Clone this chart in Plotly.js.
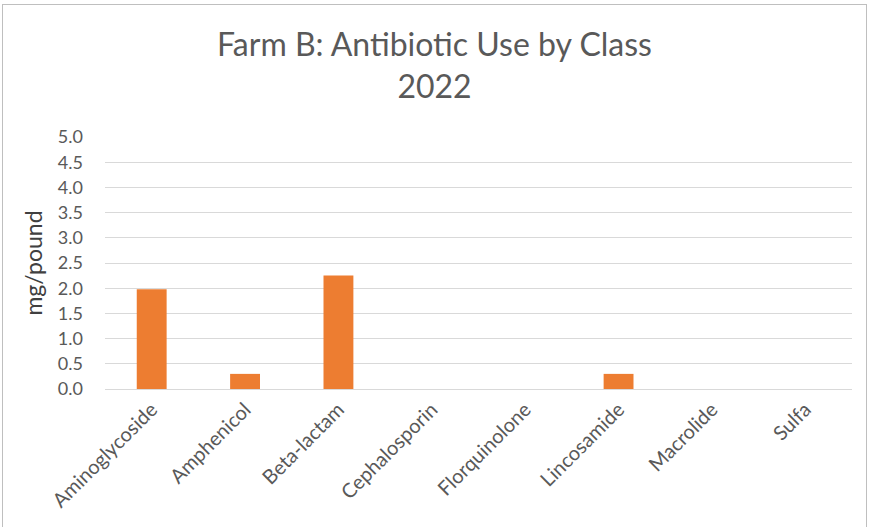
<!DOCTYPE html>
<html>
<head>
<meta charset="utf-8">
<script src="https://cdn.plot.ly/plotly-3.0.1.min.js"></script>
<style>
html,body{margin:0;padding:0;background:#fff;}
#wrap{position:relative;width:869px;height:527px;overflow:hidden;}
#chart{width:869px;height:527px;}
#frame{position:absolute;left:2px;top:4px;width:865px;height:600px;border:1px solid #bfbfbf;pointer-events:none;box-sizing:border-box;}
</style>
</head>
<body>
<div id="wrap"><div id="chart"></div><div id="frame"></div></div>
<script>
const categories = ["Aminoglycoside","Amphenicol","Beta-lactam","Cephalosporin","Florquinolone","Lincosamide","Macrolide","Sulfa"];
const values = [1.98, 0.30, 2.25, 0, 0, 0.30, 0, 0];
const yTickVals = [0,0.5,1,1.5,2,2.5,3,3.5,4,4.5,5];
const yTickText = ["0.0","0.5","1.0","1.5","2.0","2.5","3.0","3.5","4.0","4.5","5.0"];
const titleText = "Farm B: Antibiotic Use by Class<br>2022";
const yTitle = "mg/pound";

const FONT = "Lato, 'Open Sans', sans-serif";
const trace = {
  type: "bar",
  x: categories,
  y: values,
  marker: {color: "#ED7D31", line: {width: 0}},
  hoverinfo: "x+y"
};
const layout = {
  width: 869, height: 527,
  margin: {l: 105, r: 17, t: 137, b: 138},
  paper_bgcolor: "#ffffff", plot_bgcolor: "#ffffff",
  font: {family: FONT, color: "#595959"},
  title: {text: titleText, font: {family: FONT, size: 32, color: "#595959"}, x: 0.5, xref: "container", xanchor: "center", y: 0.893, yref: "container", yanchor: "top"},
  bargap: 0.68,
  showlegend: false,
  xaxis: {
    type: "category",
    tickangle: -45,
    tickfont: {family: FONT, size: 20, color: "#595959"},
    showgrid: false, zeroline: false,
    showline: true, linecolor: "#d9d9d9", linewidth: 1,
    ticks: "", fixedrange: true
  },
  yaxis: {
    range: [0, 5],
    tickvals: yTickVals, ticktext: yTickText,
    tickfont: {family: FONT, size: 18, color: "#595959"},
    showgrid: true, gridcolor: "#d9d9d9", gridwidth: 1,
    zeroline: false, showline: false, ticks: "",
    ticklabelstandoff: 21,
    title: {text: yTitle, font: {family: FONT, size: 23, color: "#404040"}, standoff: 8},
    fixedrange: true
  }
};
Plotly.newPlot("chart", [trace], layout, {displayModeBar: false, staticPlot: true});
</script>
</body>
</html>
